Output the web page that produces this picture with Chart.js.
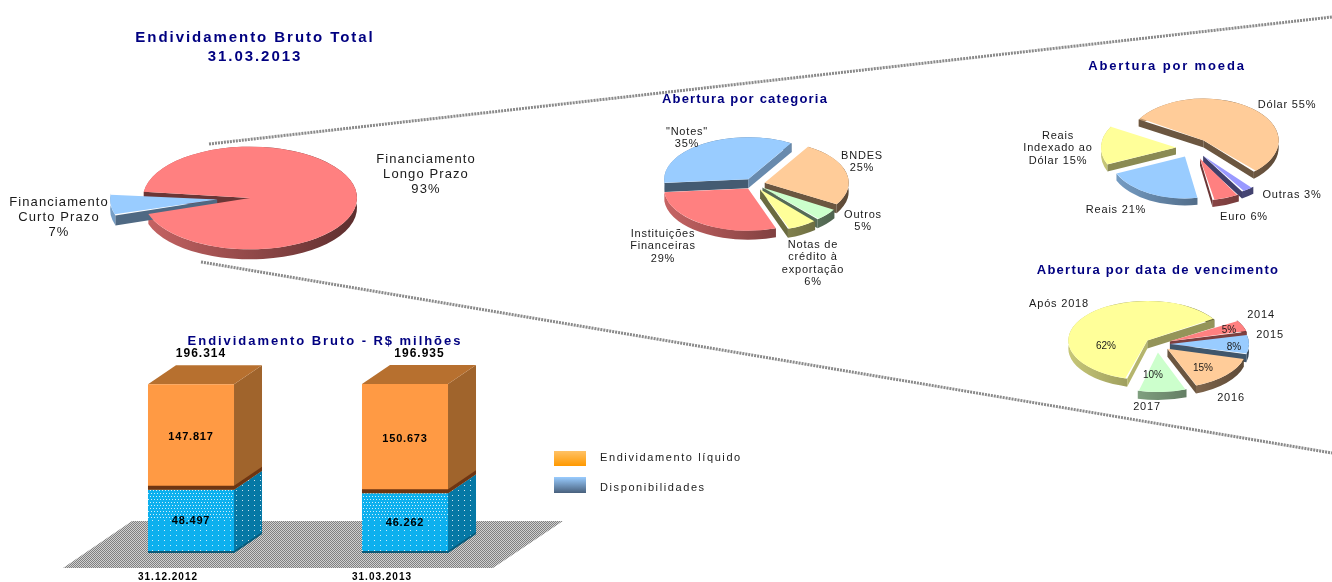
<!DOCTYPE html>
<html lang="pt-BR">
<head>
<meta charset="utf-8">
<title>Endividamento Bruto Total</title>
<script src="https://cdn.jsdelivr.net/npm/chart.js@4"></script>
<style>
  html, body { margin: 0; padding: 0; background: #fff; overflow: hidden; }
  #pagina { position: relative; width: 1332px; height: 582px; overflow: hidden; font-family: "Liberation Sans", Arial, sans-serif; }
  #pagina canvas { position: absolute; }
  #linhas { position: absolute; left: 0; top: 0; }
  .titulo, .rotulo { position: absolute; white-space: pre; text-align: center; transform: translateX(-50%); z-index: 5; }
  .titulo { color: #000080; font-weight: bold; }
  .rotulo { color: #1a1a1a; }
  .caixa { position: absolute; left: 554px; width: 32px; }
  .legenda { position: absolute; left: 600px; font-size: 11px; letter-spacing: 1.6px; color: #1a1a1a; }
</style>
</head>
<body>
<div id="pagina">
  <svg id="linhas" width="1332" height="582">
    <line x1="209" y1="144" x2="1332" y2="17" stroke="#8a8a8a" stroke-width="3" stroke-dasharray="2 1"/>
    <line x1="201" y1="262" x2="1332" y2="453" stroke="#8a8a8a" stroke-width="3" stroke-dasharray="2 1"/>
  </svg>
</div>
<script>
// Endividamento bruto total
const totalNomes = ["Financiamento\nLongo Prazo\n", "Financiamento\nCurto Prazo\n"];
const totalValores = [93, 7];

// Abertura por categoria
const categoriaNomes = ["BNDES\n", "Outros\n", "Notas de\ncrédito à\nexportação\n", "Instituições\nFinanceiras\n", "\"Notes\"\n"];
const categoriaValores = [25, 5, 6, 29, 35];

// Abertura por moeda
const moedaNomes = ["Dólar ", "Outras ", "Euro ", "Reais ", "Reais\nIndexado ao\nDólar "];
const moedaValores = [55, 3, 6, 21, 15];

// Abertura por data de vencimento
const vencimentoNomes = ["2014", "2015", "2016", "2017", "Após 2018"];
const vencimentoValores = [5, 8, 15, 10, 62];

// Barras
const datas = ["31.12.2012", "31.03.2013"];
const disponibilidades = [48497, 46262];
const endividamentoLiquido = [147817, 150673];
const totais = [196314, 196935];

const VERMELHO = "#FF8080", AZUL = "#99CCFF", PESSEGO = "#FFCC99", VERDE = "#CCFFCC", AMARELO = "#FFFF99", VIOLETA = "#9999FF";
const pagina = document.getElementById("pagina");

function escurecer(hex, f) {
  const n = parseInt(hex.slice(1), 16);
  return `rgb(${Math.round((n >> 16) * f)},${Math.round(((n >> 8) & 255) * f)},${Math.round((n & 255) * f)})`;
}

function formatar(v) {
  return String(v).replace(/\B(?=(\d{3})+$)/g, ".");
}

function texto(classe, conteudo, x, y, tamanho, espaco, altura) {
  const el = document.createElement("div");
  el.className = classe;
  el.textContent = conteudo;
  el.style.left = x + "px";
  el.style.top = y + "px";
  el.style.fontSize = tamanho + "px";
  el.style.letterSpacing = espaco + "px";
  el.style.lineHeight = (altura || tamanho + 2) + "px";
  pagina.appendChild(el);
}

// achata a pizza e desenha a lateral antes do topo
const pizza3d = {
  id: "pizza3d",
  afterDatasetsUpdate(chart, args, opts) {
    // o Arc aumenta o raio conforme o offset: compensa para as fatias ficarem iguais
    chart.getDatasetMeta(0).data.forEach((arco, i) => {
      const desloc = chart.data.datasets[0].offset[i] / 4;
      const fix = 1 - Math.sin(Math.min(Math.PI, arco.circumference));
      arco.outerRadius = opts.raio - desloc * fix;
    });
  },
  beforeDatasetsDraw(chart, args, opts) {
    const ctx = chart.ctx;
    const cx = (chart.chartArea.left + chart.chartArea.right) / 2;
    const cy = (chart.chartArea.top + chart.chartArea.bottom) / 2;
    ctx.save();
    ctx.translate(cx, cy);
    ctx.scale(1, opts.achatar);
    ctx.translate(-cx, -cy);
    const D = opts.profundidade / opts.achatar;
    const cores = chart.data.datasets[0].backgroundColor;
    chart.getDatasetMeta(0).data.forEach((arco, i) => {
      const meio = (arco.startAngle + arco.endAngle) / 2;
      const desloc = chart.data.datasets[0].offset[i] / 4;
      const x = arco.x + Math.cos(meio) * desloc;
      const y = arco.y + Math.sin(meio) * desloc;
      const r = opts.raio;
      const grad = ctx.createLinearGradient(x - r, 0, x + r, 0);
      grad.addColorStop(0, escurecer(cores[i], 0.78));
      grad.addColorStop(1, escurecer(cores[i], 0.36));
      ctx.fillStyle = grad;
      ctx.beginPath();
      ctx.arc(x, y, r, arco.startAngle, arco.endAngle);
      ctx.arc(x, y + D, r, arco.endAngle, arco.startAngle, true);
      ctx.closePath();
      ctx.fill();
      [[arco.startAngle, Math.sin(arco.startAngle), -Math.cos(arco.startAngle)],
       [arco.endAngle, -Math.sin(arco.endAngle), Math.cos(arco.endAngle)]].forEach(([a, nx, ny]) => {
        if (ny <= 0) return;
        ctx.fillStyle = escurecer(cores[i], 0.42 + 0.3 * Math.max(0, nx));
        ctx.beginPath();
        ctx.moveTo(x, y);
        ctx.lineTo(x + Math.cos(a) * r, y + Math.sin(a) * r);
        ctx.lineTo(x + Math.cos(a) * r, y + Math.sin(a) * r + D);
        ctx.lineTo(x, y + D);
        ctx.closePath();
        ctx.fill();
      });
    });
  },
  afterDatasetsDraw(chart) {
    chart.ctx.restore();
  }
};

function pizza(nomes, valores, cores, o) {
  const lado = 2 * (o.raio + Math.max(...o.deslocamento) + 12);
  const canvas = document.createElement("canvas");
  canvas.width = lado;
  canvas.height = lado;
  canvas.style.left = (o.cx - lado / 2) + "px";
  canvas.style.top = (o.cy - lado / 2) + "px";
  pagina.appendChild(canvas);
  return new Chart(canvas, {
    type: "pie",
    data: {
      labels: nomes,
      datasets: [{
        data: valores,
        backgroundColor: cores,
        borderWidth: 0,
        offset: o.deslocamento.map(v => v * 4),
        clip: false
      }]
    },
    options: {
      responsive: false,
      animation: false,
      rotation: o.inicio,
      radius: o.raio,
      plugins: {
        legend: { display: false },
        tooltip: { enabled: false },
        pizza3d: { achatar: o.achatar, profundidade: o.profundidade, raio: o.raio }
      }
    },
    plugins: [pizza3d]
  });
}

pizza(totalNomes, totalValores, [VERMELHO, AZUL], {
  cx: 250, cy: 198, raio: 107, achatar: 0.48, profundidade: 10, inicio: 277, deslocamento: [0, 33]
});
pizza(categoriaNomes, categoriaValores, [PESSEGO, VERDE, AMARELO, VERMELHO, AZUL], {
  cx: 754, cy: 183.5, raio: 84, achatar: 0.5, profundidade: 9, inicio: 31, deslocamento: [11, 11, 12, 11, 11]
});
pizza(moedaNomes, moedaValores, [PESSEGO, VIOLETA, VERMELHO, AZUL, AMARELO], {
  cx: 1192.5, cy: 147.5, raio: 75, achatar: 0.56, profundidade: 7, inicio: 300, deslocamento: [17, 17, 20, 17, 17]
});
pizza(vencimentoNomes, vencimentoValores, [VERMELHO, AZUL, PESSEGO, VERDE, AMARELO], {
  cx: 1157, cy: 343.6, raio: 79, achatar: 0.5, profundidade: 8, inicio: 58, deslocamento: [14, 13, 14, 17, 12]
});

// textura dos pontos brancos da parte azul
function textura(cor, limite) {
  const c = document.createElement("canvas");
  c.width = 6;
  c.height = 242;
  const g = c.getContext("2d");
  g.fillStyle = cor;
  g.fillRect(0, 0, 6, 242);
  g.fillStyle = "rgba(255,255,255,0.8)";
  for (let y = 0; y < 242; y += y < limite ? 3 : 5) {
    const par = Math.round(y / 3) % 2;
    if (y < limite) {
      g.fillRect(par, y, 1, 1);
      g.fillRect(par + 3, y, 1, 1);
    } else {
      g.fillRect(2, y, 1, 1);
    }
  }
  return g.createPattern(c, "repeat");
}

function texturaPiso() {
  const c = document.createElement("canvas");
  c.width = 2;
  c.height = 2;
  const g = c.getContext("2d");
  g.fillStyle = "#d0d0d0";
  g.fillRect(0, 0, 2, 2);
  g.fillStyle = "#808080";
  g.fillRect(0, 0, 1, 1);
  g.fillRect(1, 1, 1, 1);
  return g.createPattern(c, "repeat");
}

const FUNDO_X = 28, FUNDO_Y = 19;
const ajusteTotal = [10, 14.5];

function quad(ctx, cor, pts) {
  ctx.fillStyle = cor;
  ctx.beginPath();
  pts.forEach((p, i) => (i ? ctx.lineTo(p[0], p[1]) : ctx.moveTo(p[0], p[1])));
  ctx.closePath();
  ctx.fill();
}

const barras3d = {
  id: "barras3d",
  beforeDraw(chart) {
    chart.ctx.letterSpacing = "1px";
  },
  beforeDatasetsDraw(chart) {
    const ctx = chart.ctx;
    const { left, right, bottom } = chart.chartArea;
    // piso
    quad(ctx, texturaPiso(), [
      [left - 21, bottom + 15], [left + 48, bottom - 32],
      [right + 51, bottom - 32], [right - 19, bottom + 15]
    ]);
    // laterais e tampa
    const ladoAzul = textura("#0678A5", 0);
    chart.data.datasets.forEach((ds, d) => {
      chart.getDatasetMeta(d).data.forEach(b => {
        const dir = b.x + b.width / 2;
        quad(ctx, d === 0 ? ladoAzul : "#A0642C", [
          [dir, b.y], [dir + FUNDO_X, b.y - FUNDO_Y],
          [dir + FUNDO_X, b.base - FUNDO_Y], [dir, b.base]
        ]);
        if (d === 1) {
          const esq = b.x - b.width / 2;
          quad(ctx, "#B7702F", [
            [esq, b.y], [esq + FUNDO_X, b.y - FUNDO_Y],
            [dir + FUNDO_X, b.y - FUNDO_Y], [dir, b.y]
          ]);
        }
      });
    });
  },
  afterDatasetsDraw(chart) {
    const ctx = chart.ctx;
    ctx.save();
    ctx.textAlign = "center";
    ctx.textBaseline = "middle";
    chart.data.datasets.forEach((ds, d) => {
      chart.getDatasetMeta(d).data.forEach((b, i) => {
        // faixa escura na base de cada bloco
        const esq = b.x - b.width / 2, dir = b.x + b.width / 2, faixa = d === 1 ? 4 : 2;
        const cor = d === 1 ? "#6E3512" : "#0A5A78";
        quad(ctx, cor, [[esq, b.base - faixa], [dir, b.base - faixa], [dir, b.base], [esq, b.base]]);
        quad(ctx, cor, [
          [dir, b.base - faixa], [dir + FUNDO_X, b.base - faixa - FUNDO_Y],
          [dir + FUNDO_X, b.base - FUNDO_Y], [dir, b.base]
        ]);
        ctx.letterSpacing = "0.8px";
        ctx.font = "bold 11px 'Liberation Sans'";
        ctx.fillStyle = "#000";
        ctx.fillText(formatar(ds.data[i]), b.x, (b.y + b.base) / 2);
        if (d === 1) {
          ctx.letterSpacing = "1px";
          ctx.font = "bold 12px 'Liberation Sans'";
          ctx.fillText(formatar(totais[i]), b.x + ajusteTotal[i], Math.floor(b.y) - 30);
        }
      });
    });
    ctx.restore();
  }
};

const canvasBarras = document.createElement("canvas");
canvasBarras.width = 600;
canvasBarras.height = 242;
canvasBarras.style.left = "0px";
canvasBarras.style.top = "340px";
pagina.appendChild(canvasBarras);

new Chart(canvasBarras, {
  type: "bar",
  data: {
    labels: datas,
    datasets: [
      { label: "Disponibilidades", data: disponibilidades, backgroundColor: textura("#0DB0EE", 180) },
      { label: "Endividamento líquido", data: endividamentoLiquido, backgroundColor: "#FF9A44" }
    ]
  },
  options: {
    responsive: false,
    animation: false,
    layout: { padding: { left: 84, right: 88, top: 44, bottom: -19 } },
    categoryPercentage: 1,
    barPercentage: 0.402,
    scales: {
      x: {
        stacked: true,
        grid: { display: false, drawTicks: false },
        border: { display: false },
        ticks: {
          padding: 18,
          labelOffset: -23,
          maxRotation: 0,
          color: "#000",
          font: { family: "Liberation Sans", size: 10, weight: "bold" }
        }
      },
      y: { type: "logarithmic", stacked: true, display: false, min: 21000, max: 196935 }
    },
    plugins: { legend: { display: false }, tooltip: { enabled: false } }
  },
  plugins: [barras3d]
});

// titulos
texto("titulo", "Endividamento Bruto Total\n31.03.2013", 255, 27, 15, 1.95, 19);
texto("titulo", "Abertura por categoria", 745, 91, 13, 1.18);
texto("titulo", "Abertura por moeda", 1167, 58, 13, 1.85);
texto("titulo", "Abertura por data de vencimento", 1158, 262, 13, 1.25);
texto("titulo", "Endividamento Bruto - R$ milhões", 325, 333, 13, 1.95);

// rotulos das fatias
texto("rotulo", totalNomes[0] + totalValores[0] + "%", 426, 151, 13, 1.1, 15);
texto("rotulo", totalNomes[1] + totalValores[1] + "%", 59, 194, 13, 1.1, 15);

const posCategoria = [[862, 149], [863, 208], [813, 238], [663, 227], [687, 125]];
categoriaNomes.forEach((n, i) => {
  texto("rotulo", n + categoriaValores[i] + "%", posCategoria[i][0], posCategoria[i][1], 11, 0.8, 12.4);
});

const posMoeda = [[1287, 98], [1292, 188], [1244, 210], [1116, 203], [1058, 129]];
moedaNomes.forEach((n, i) => {
  texto("rotulo", n + moedaValores[i] + "%", posMoeda[i][0], posMoeda[i][1], 11, 0.8, 12.4);
});

const posVencimento = [[1261, 308], [1270, 328], [1231, 391], [1147, 400], [1059, 297]];
const posPercentual = [[1229, 324], [1234, 341], [1203, 362], [1153, 369], [1106, 340]];
vencimentoNomes.forEach((n, i) => {
  texto("rotulo", n, posVencimento[i][0], posVencimento[i][1], 11, 0.8, 12.4);
  texto("rotulo", vencimentoValores[i] + "%", posPercentual[i][0], posPercentual[i][1], 10, 0, 12);
});

// legenda
[["Endividamento líquido", 451, 15, "#FFC266", "#FF9900", 451],
 ["Disponibilidades", 477, 16, "#99CCFF", "#48607C", 481]].forEach(([nome, y, h, c1, c2, yTexto]) => {
  const caixa = document.createElement("div");
  caixa.className = "caixa";
  caixa.style.top = y + "px";
  caixa.style.height = h + "px";
  caixa.style.background = `linear-gradient(${c1}, ${c2})`;
  pagina.appendChild(caixa);
  const t = document.createElement("div");
  t.className = "legenda";
  t.textContent = nome;
  t.style.top = yTexto + "px";
  pagina.appendChild(t);
});
</script>
</body>
</html>
